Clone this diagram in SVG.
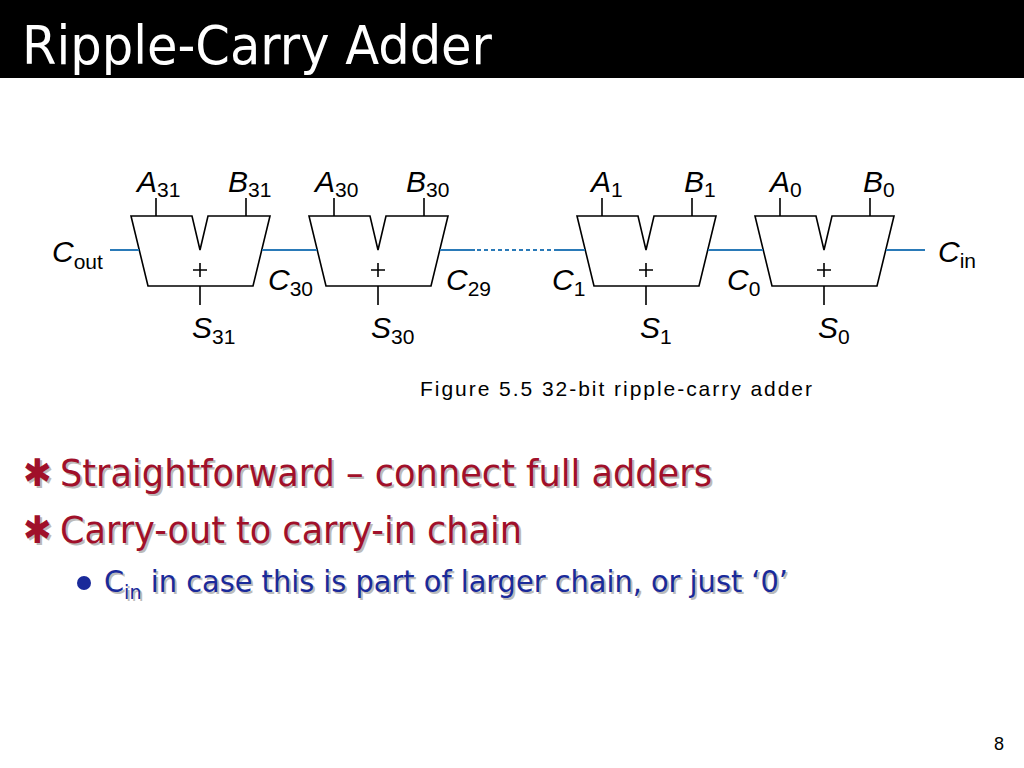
<svg xmlns="http://www.w3.org/2000/svg" width="1024" height="768" viewBox="0 0 1024 768">
<style>
.t{font-family:"DejaVu Sans Condensed","DejaVu Sans",sans-serif}
.l{font-family:"Liberation Sans",Arial,sans-serif;font-size:30px;font-style:italic;fill:#000}
.l tspan{font-style:normal;font-size:21px}
.fa{fill:#fff;stroke:#000;stroke-width:1.6}
.w{stroke:#000;stroke-width:1.6;fill:none}
.c{stroke:#2a7ab8;stroke-width:1.8;fill:none}
.red{fill:#a0102a;font-size:38px}
.blue{fill:#1a2a9a;font-size:30px}
.sh{fill:#bbb}
</style>
<defs>
<g id="fa">
<path class="fa" d="M131 216 L192 216 L200 250 L208 216 L270 216 L253 286 L148 286 Z"/>
<path class="w" d="M156 198 V216 M246 198 V216 M200 286 V305 M193 270 H207 M200 263 V277"/>
</g>
</defs>
<rect x="0" y="0" width="1024" height="78" fill="#000"/>
<text class="t" x="22" y="64" font-size="54" fill="#fff" textLength="470" lengthAdjust="spacingAndGlyphs">Ripple-Carry Adder</text>
<g id="adder31"><use href="#fa"/></g>
<g id="adder30"><use href="#fa" x="178"/></g>
<g id="adder1"><use href="#fa" x="446"/></g>
<g id="adder0"><use href="#fa" x="624"/></g>
<g id="connectors">
<path class="c" d="M110 250 H139 M262 250 H317 M440 250 H475 M555 250 H585 M708 250 H763 M886 250 H925"/>
<path class="c" d="M477 250 H555" stroke-dasharray="4 3"/>
</g>
<g id="labels">
<text class="l" x="137" y="192">A<tspan dy="5">31</tspan></text>
<text class="l" x="228" y="192">B<tspan dy="5">31</tspan></text>
<text class="l" x="315" y="192">A<tspan dy="5">30</tspan></text>
<text class="l" x="406" y="192">B<tspan dy="5">30</tspan></text>
<text class="l" x="591" y="192">A<tspan dy="5">1</tspan></text>
<text class="l" x="684" y="192">B<tspan dy="5">1</tspan></text>
<text class="l" x="770" y="192">A<tspan dy="5">0</tspan></text>
<text class="l" x="863" y="192">B<tspan dy="5">0</tspan></text>
<text class="l" x="52" y="262">C<tspan dy="7">out</tspan></text>
<text class="l" x="268" y="290">C<tspan dy="6">30</tspan></text>
<text class="l" x="446" y="290">C<tspan dy="6">29</tspan></text>
<text class="l" x="552" y="290">C<tspan dy="6">1</tspan></text>
<text class="l" x="727" y="290">C<tspan dy="6">0</tspan></text>
<text class="l" x="938" y="262">C<tspan dy="6">in</tspan></text>
<text class="l" x="192" y="338">S<tspan dy="6">31</tspan></text>
<text class="l" x="371" y="338">S<tspan dy="6">30</tspan></text>
<text class="l" x="640" y="338">S<tspan dy="6">1</tspan></text>
<text class="l" x="818" y="338">S<tspan dy="6">0</tspan></text>
</g>
<text x="420" y="396" font-family="Liberation Sans,Arial,sans-serif" font-size="21" textLength="392">Figure 5.5 32-bit ripple-carry adder</text>
<g class="t">
<text class="red sh" x="25" y="488" font-size="26">✱</text>
<text class="red" x="23" y="486" font-size="26">✱</text>
<text class="red sh" x="62" y="488" textLength="652" lengthAdjust="spacingAndGlyphs">Straightforward – connect full adders</text>
<text class="red" x="60" y="486" textLength="652" lengthAdjust="spacingAndGlyphs">Straightforward – connect full adders</text>
<text class="red sh" x="25" y="545" font-size="26">✱</text>
<text class="red" x="23" y="543" font-size="26">✱</text>
<text class="red sh" x="62" y="545" textLength="462" lengthAdjust="spacingAndGlyphs">Carry-out to carry-in chain</text>
<text class="red" x="60" y="543" textLength="462" lengthAdjust="spacingAndGlyphs">Carry-out to carry-in chain</text>
<circle cx="84" cy="583" r="7" fill="#1a2a9a"/>
<text class="blue sh" x="106" y="594" textLength="684" lengthAdjust="spacingAndGlyphs">C<tspan font-size="20" dy="7">in</tspan><tspan dy="-7"> in case this is part of larger chain, or just ‘0’</tspan></text>
<text class="blue" x="104" y="592" textLength="684" lengthAdjust="spacingAndGlyphs">C<tspan font-size="20" dy="7">in</tspan><tspan dy="-7"> in case this is part of larger chain, or just ‘0’</tspan></text>
</g>
<text x="1004" y="750" font-family="Liberation Sans,Arial,sans-serif" font-size="18" text-anchor="end">8</text>
</svg>
